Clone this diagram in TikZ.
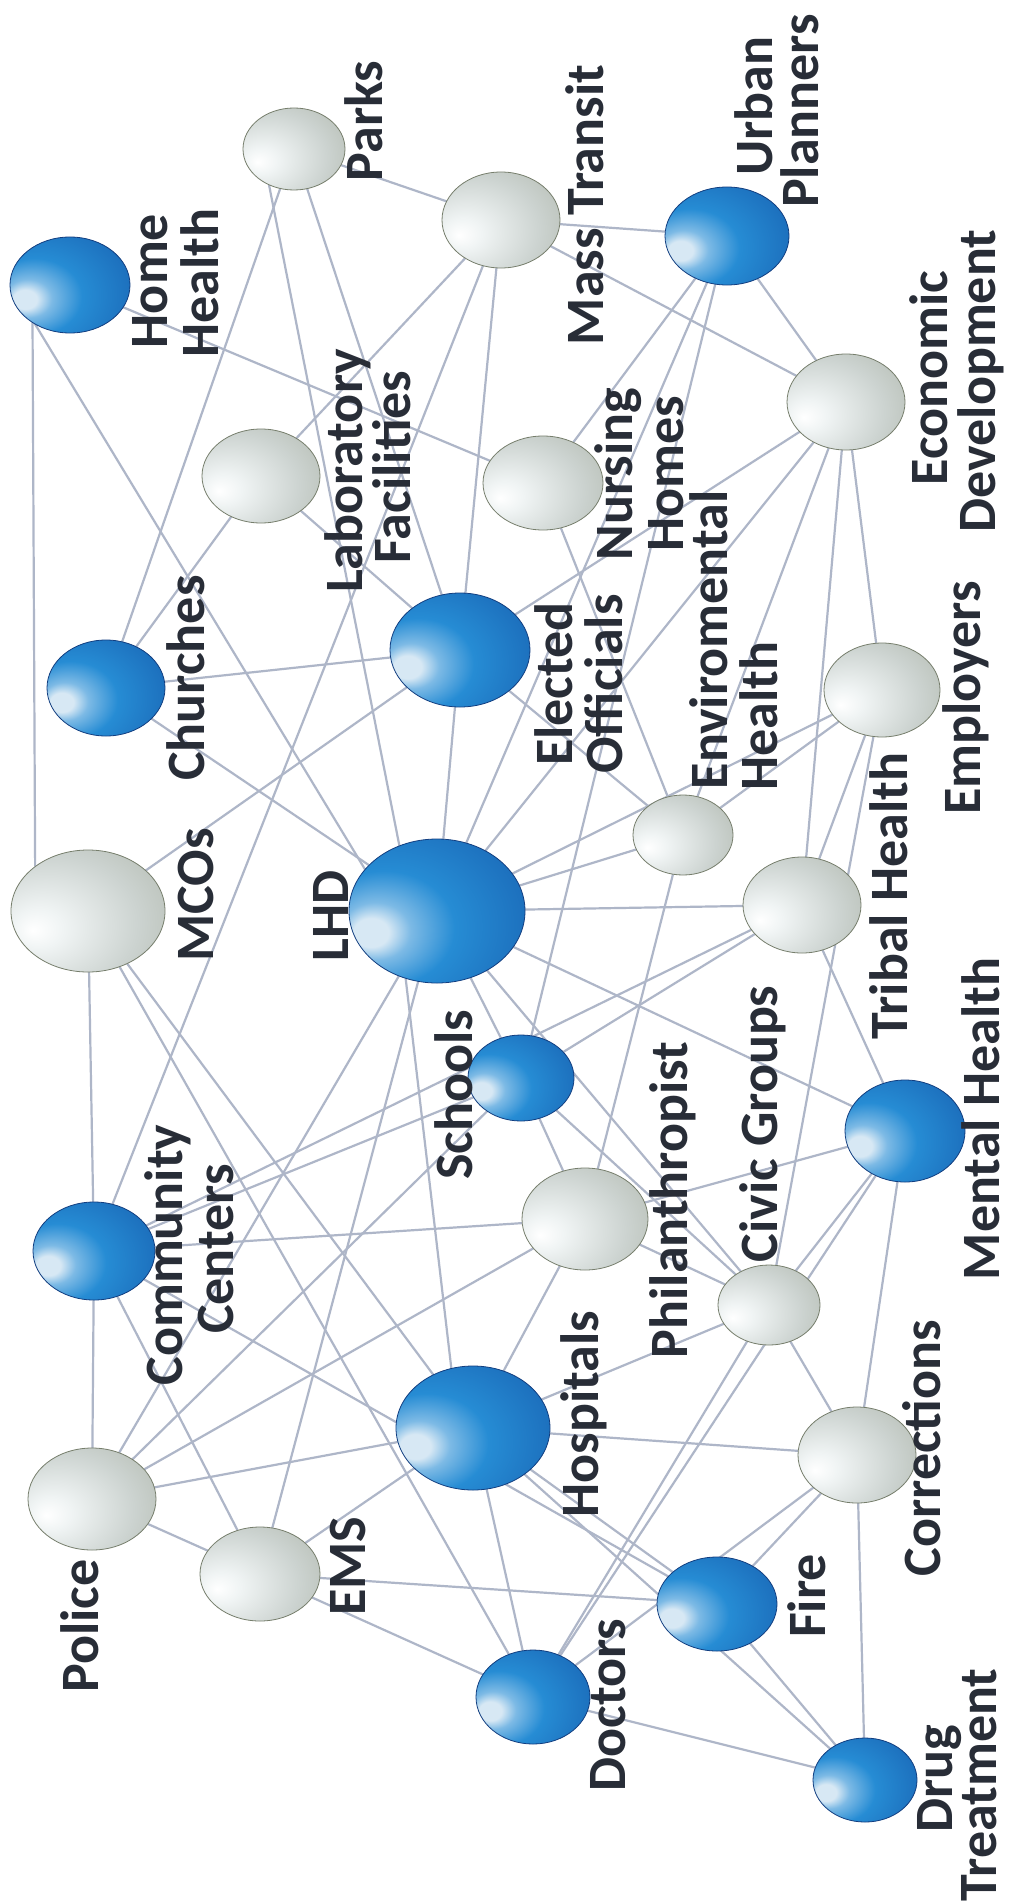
\documentclass[tikz,border=0pt]{standalone}
\usepackage{fontspec}
\setmainfont{Carlito}
\usetikzlibrary{shapes.geometric}
\pgfdeclarelayer{bg}
\pgfsetlayers{bg,main}
\definecolor{bhl}{RGB}{215,232,244}
\definecolor{bbright}{RGB}{38,140,212}
\definecolor{bmid}{RGB}{24,98,178}
\definecolor{bdark}{RGB}{18,62,128}
\definecolor{ghl}{RGB}{240,244,244}
\definecolor{gmid}{RGB}{204,211,208}
\definecolor{gedge}{RGB}{168,175,162}
\definecolor{gdark}{RGB}{118,126,108}
\definecolor{txt}{RGB}{40,45,55}
\definecolor{linkc}{RGB}{174,182,200}
\pgfdeclareradialshading{bluesph}{\pgfpoint{-20bp}{-8bp}}{%
 color(0bp)=(bhl); color(5bp)=(bhl); color(10bp)=(bbright!60!white);
 color(20bp)=(bbright); color(45bp)=(bmid); color(62bp)=(bdark); color(80bp)=(bdark)}
\pgfdeclareradialshading{graysph}{\pgfpoint{-18bp}{-8bp}}{%
 color(0bp)=(white); color(8bp)=(ghl); color(28bp)=(gmid);
 color(52bp)=(gedge); color(66bp)=(gdark); color(80bp)=(gdark)}
\begin{document}
\begin{tikzpicture}[x=1pt,y=-1pt,
  sph/.style={ellipse, inner sep=0pt, outer sep=0pt},
  bsph/.style={sph, shading=bluesph, draw=bdark, line width=0.8pt},
  gsph/.style={sph, shading=graysph, draw=gdark, line width=0.8pt},
  lab/.style={rotate=90, anchor=base, inner sep=0pt, text=txt, font=\bfseries\fontsize{54}{48}\selectfont},
  link/.style={draw=linkc, line width=2.2pt}]
\useasboundingbox (0,0) rectangle (1009,1902);
% spheres
\node[bsph, minimum width=120pt, minimum height=96pt]  (HH)  at (70,285)  {};
\node[gsph, minimum width=102pt, minimum height=82pt]  (PK)  at (294,149) {};
\node[gsph, minimum width=118pt, minimum height=96pt]  (MT)  at (501,220) {};
\node[bsph, minimum width=124pt, minimum height=98pt]  (UP)  at (727,236) {};
\node[gsph, minimum width=118pt, minimum height=96pt]  (ED)  at (846,402) {};
\node[gsph, minimum width=118pt, minimum height=94pt]  (LF)  at (261,476) {};
\node[gsph, minimum width=120pt, minimum height=94pt]  (NH)  at (543,483) {};
\node[bsph, minimum width=118pt, minimum height=96pt]  (CH)  at (106,688) {};
\node[bsph, minimum width=140pt, minimum height=114pt] (EO)  at (460,650) {};
\node[gsph, minimum width=116pt, minimum height=94pt]  (EM)  at (882,690) {};
\node[gsph, minimum width=154pt, minimum height=122pt] (MC)  at (88,911)  {};
\node[bsph, minimum width=176pt, minimum height=144pt] (LHD) at (437,911) {};
\node[gsph, minimum width=100pt, minimum height=80pt]  (EH)  at (683,835) {};
\node[gsph, minimum width=118pt, minimum height=96pt]  (TH)  at (802,905) {};
\node[bsph, minimum width=106pt, minimum height=86pt]  (SC)  at (521,1078) {};
\node[bsph, minimum width=122pt, minimum height=98pt]  (CC)  at (94,1251) {};
\node[gsph, minimum width=126pt, minimum height=102pt] (PH)  at (585,1219) {};
\node[bsph, minimum width=120pt, minimum height=102pt] (MH)  at (905,1131) {};
\node[gsph, minimum width=102pt, minimum height=80pt]  (CG)  at (769,1305) {};
\node[gsph, minimum width=128pt, minimum height=102pt] (PO)  at (92,1499) {};
\node[bsph, minimum width=154pt, minimum height=124pt] (HO)  at (473,1428) {};
\node[gsph, minimum width=118pt, minimum height=96pt]  (CO)  at (857,1455) {};
\node[gsph, minimum width=120pt, minimum height=94pt]  (EMS) at (260,1574) {};
\node[bsph, minimum width=120pt, minimum height=94pt]  (FI)  at (717,1604) {};
\node[bsph, minimum width=114pt, minimum height=94pt]  (DO)  at (533,1697) {};
\node[bsph, minimum width=104pt, minimum height=84pt]  (DT)  at (865,1780) {};
% connectors
\begin{pgfonlayer}{bg}
\fill[white] (0,0) rectangle (1009,1902);
\draw[link] (HH.225) -- (MC.140);
\draw[link] (HH.228) -- (LHD.150);
\draw[link] (PK.235) -- (LHD.120);
\draw[link] (LHD.245) -- (HO.110);
\foreach \a/\b in {HH/NH,
  PK/MT, PK/CH, PK/EO,
  MT/UP, MT/LF, MT/ED, MT/CC, MT/EO,
  UP/NH, UP/ED, UP/LHD, UP/SC,
  LF/CH, LF/EO, NH/EH,
  ED/EO, ED/EM, ED/TH, ED/LHD, ED/EH,
  CH/EO, CH/LHD,
  MC/EO, MC/CC, MC/DO, MC/HO,
  EO/LHD, EO/EH,
  EM/LHD, EM/TH, EM/CG, EM/EH,
  LHD/EH, LHD/TH, LHD/SC, LHD/MH, LHD/CG, LHD/PO, LHD/EMS,
  EH/PH, TH/SC, TH/MH,
  SC/PH, SC/CC, SC/CG, SC/PO,
  CC/PH, CC/PO, CC/EMS, CC/FI, CC/TH,
  PH/HO, PH/MH, PH/CG, PH/PO,
  MH/CG, MH/CO, MH/DO,
  CG/CO, CG/HO, CG/DO,
  PO/EMS, PO/HO,
  HO/EMS, HO/DO, HO/FI, HO/DT, HO/CO,
  CO/FI, CO/DT, DO/CO, EMS/FI, EMS/DO, FI/DT, DO/DT}
  \draw[link] (\a) -- (\b);
\end{pgfonlayer}
% labels
\node[lab] (tHome) at (167,281) {Home};
\node[lab] (tHealthA) at (218,283) {Health};
\node[lab] (tParks) at (382,121) {Parks};
\node[lab] (tMass) at (603,205) {Mass Transit};
\node[lab] (tUrban) at (772,106) {Urban};
\node[lab] (tPlanners) at (818,111) {Planners};
\node[lab] (tEconomic) at (947,378) {Economic};
\node[lab] (tDevelopment) at (995,381) {Development};
\node[lab] (tLaboratory) at (362,471) {Laboratory};
\node[lab] (tFacilities) at (410,467) {Facilities};
\node[lab] (tNursing) at (632,474) {Nursing};
\node[lab] (tHomes) at (683,474) {Homes};
\node[lab] (tChurches) at (204,678) {Churches};
\node[lab] (tElected) at (572,684) {Elected};
\node[lab] (tOfficials) at (622,684) {Officials};
\node[lab] (tEnviro) at (727,640) {Enviromental};
\node[lab] (tHealthB) at (777,716) {Health};
\node[lab] (tEmployers) at (980,698) {Employers};
\node[lab] (tMCOs) at (213,895) {MCOs};
\node[lab] (tLHD) at (348,916) {LHD};
\node[lab] (tTribal) at (907,896) {Tribal Health};
\node[lab] (tSchools) at (472,1095) {Schools};
\node[lab] (tCommunity) at (182,1255) {Community};
\node[lab] (tCenters) at (233,1249) {Centers};
\node[lab] (tPhil) at (687,1200) {Philanthropist};
\node[lab] (tCivic) at (777,1124) {Civic Groups};
\node[lab] (tMental) at (999,1119) {Mental Health};
\node[lab] (tHospitals) at (598,1414) {Hospitals};
\node[lab] (tCorrections) at (940,1448) {Corrections};
\node[lab] (tPolice) at (98,1626) {Police};
\node[lab] (tEMS) at (365,1566) {EMS};
\node[lab] (tFire) at (825,1596) {Fire};
\node[lab] (tDoctors) at (625,1705) {Doctors};
\node[lab] (tDrug) at (952,1779) {Drug};
\node[lab] (tTreatment) at (996,1785) {Treatment};
\end{tikzpicture}
\end{document}
